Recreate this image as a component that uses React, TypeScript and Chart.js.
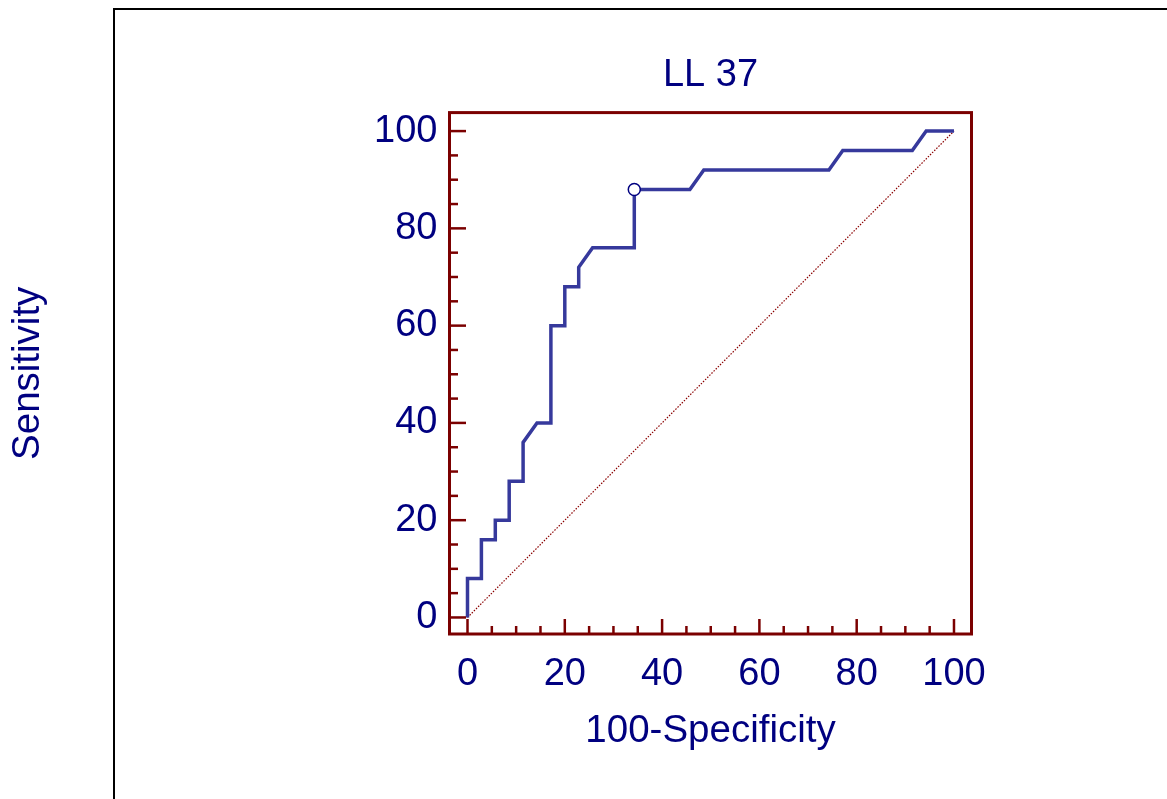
import React, { useEffect, useRef } from "react";
import { Chart, registerables } from "chart.js";

Chart.register(...registerables);

// ROC curve for LL 37: false positive rate (100-Specificity) vs. sensitivity
const fprValues = [
  0, 0, 2.857, 2.857, 5.714, 5.714, 8.571, 8.571, 11.429, 11.429, 14.286,
  17.143, 17.143, 20, 20, 22.857, 22.857, 25.714, 34.286, 34.286, 45.714,
  48.571, 74.286, 77.143, 91.429, 94.286, 100,
];
const sensitivityValues = [
  0, 8, 8, 16, 16, 20, 20, 28, 28, 36, 40, 40, 60, 60, 68, 68, 72, 76, 76, 88,
  88, 92, 92, 96, 96, 100, 100,
];

// Optimal cut-off point on the curve
const cutoffFpr = [34.286];
const cutoffSensitivity = [88];

// Chance line
const diagonalValues = [0, 100];

const tickValues = [0, 20, 40, 60, 80, 100];
const minorStep = 5;

const FONT = "'Liberation Sans', Arial, Helvetica, sans-serif";
const TEXT_COLOR = "#000080";
const FRAME_COLOR = "#7b0000";
const CURVE_COLOR = "#36399c";

const W = 1167;
const H = 799;

const framePlugin = {
  id: "rocFrame",
  beforeDraw(chart: any) {
    const ctx = chart.ctx;
    ctx.save();
    ctx.strokeStyle = "#000000";
    ctx.lineWidth = 2;
    ctx.beginPath();
    ctx.moveTo(114, H);
    ctx.lineTo(114, 9);
    ctx.lineTo(W, 9);
    ctx.stroke();
    ctx.restore();
  },
  afterDraw(chart: any) {
    const { ctx, chartArea } = chart;
    const xs = chart.scales.x;
    const ys = chart.scales.y;
    const { left, top, right, bottom } = chartArea;
    ctx.save();
    ctx.strokeStyle = FRAME_COLOR;
    ctx.lineCap = "butt";
    // inward tick marks on left and bottom
    ctx.lineWidth = 2.5;
    for (let v = 0; v <= 100; v += minorStep) {
      const major = v % 20 === 0;
      const len = major ? 16.5 : 8.5;
      const py = ys.getPixelForValue(v);
      ctx.beginPath();
      ctx.moveTo(left, py);
      ctx.lineTo(left + len, py);
      ctx.stroke();
      const px = xs.getPixelForValue(v);
      ctx.beginPath();
      ctx.moveTo(px, bottom);
      ctx.lineTo(px, bottom - (major ? 15 : 8));
      ctx.stroke();
    }
    // plot box
    ctx.lineWidth = 3;
    ctx.strokeRect(left, top, right - left, bottom - top);
    ctx.restore();
  },
};

export default function App() {
  const canvasRef = useRef<HTMLCanvasElement | null>(null);

  useEffect(() => {
    if (!canvasRef.current) return;
    const curve = fprValues.map((x, i) => ({ x, y: sensitivityValues[i] }));
    const cutoff = cutoffFpr.map((x, i) => ({ x, y: cutoffSensitivity[i] }));
    const diagonal = diagonalValues.map((v) => ({ x: v, y: v }));

    const chart = new Chart(canvasRef.current, {
      type: "scatter",
      data: {
        datasets: [
          {
            label: "Cut-off",
            data: cutoff,
            showLine: false,
            pointRadius: 6,
            pointBackgroundColor: "#ffffff",
            pointBorderColor: TEXT_COLOR,
            pointBorderWidth: 1.5,
          },
          {
            label: "LL 37",
            data: curve,
            showLine: true,
            borderColor: CURVE_COLOR,
            borderWidth: 3.5,
            borderJoinStyle: "miter",
            pointRadius: 0,
            tension: 0,
          },
          {
            label: "Reference",
            data: diagonal,
            showLine: true,
            borderColor: "#8b0000",
            borderWidth: 1.2,
            borderDash: [1.5, 1.5],
            pointRadius: 0,
          },
        ],
      },
      options: {
        responsive: false,
        animation: false,
        devicePixelRatio: 1,
        layout: { padding: { left: 0, right: 195.5, top: 8, bottom: 0 } },
        plugins: {
          legend: { display: false },
          tooltip: { enabled: false },
          title: {
            display: true,
            text: "LL 37",
            color: TEXT_COLOR,
            fullSize: false,
            font: { family: FONT, size: 38, weight: "normal" },
            padding: { top: 45, bottom: 14 },
          },
        },
        scales: {
          x: {
            type: "linear",
            min: -3.7,
            max: 103.6,
            grid: { display: false },
            border: { display: false },
            afterBuildTicks: (scale: any) => {
              scale.ticks = tickValues.map((v) => ({ value: v }));
            },
            afterFit: (scale: any) => {
              scale.height = 165;
            },
            ticks: {
              color: TEXT_COLOR,
              font: { family: FONT, size: 38 },
              padding: 10,
              maxRotation: 0,
              callback: (v: any) => String(v),
            },
            title: {
              display: true,
              text: "100-Specificity",
              color: TEXT_COLOR,
              font: { family: FONT, size: 38.5 },
              padding: { top: 0, bottom: 44.7 },
            },
          },
          y: {
            type: "linear",
            min: -3.4,
            max: 103.8,
            grid: { display: false },
            border: { display: false },
            afterBuildTicks: (scale: any) => {
              scale.ticks = tickValues.map((v) => ({ value: v }));
            },
            afterFit: (scale: any) => {
              scale.width = 449.5;
            },
            ticks: {
              color: TEXT_COLOR,
              font: { family: FONT, size: 38 },
              padding: 4,
              callback: (v: any) => String(v),
            },
            title: {
              display: true,
              text: "Sensitivity",
              color: TEXT_COLOR,
              font: { family: FONT, size: 38.5 },
              padding: { top: 5, bottom: 0 },
            },
          },
        },
      },
      plugins: [framePlugin],
    } as any);

    return () => chart.destroy();
  }, []);

  return (
    <div
      style={{
        position: "absolute",
        left: 0,
        top: 0,
        width: W,
        height: H,
        background: "#ffffff",
      }}
    >
      <canvas ref={canvasRef} width={W} height={H} style={{ width: W, height: H }} />
    </div>
  );
}
